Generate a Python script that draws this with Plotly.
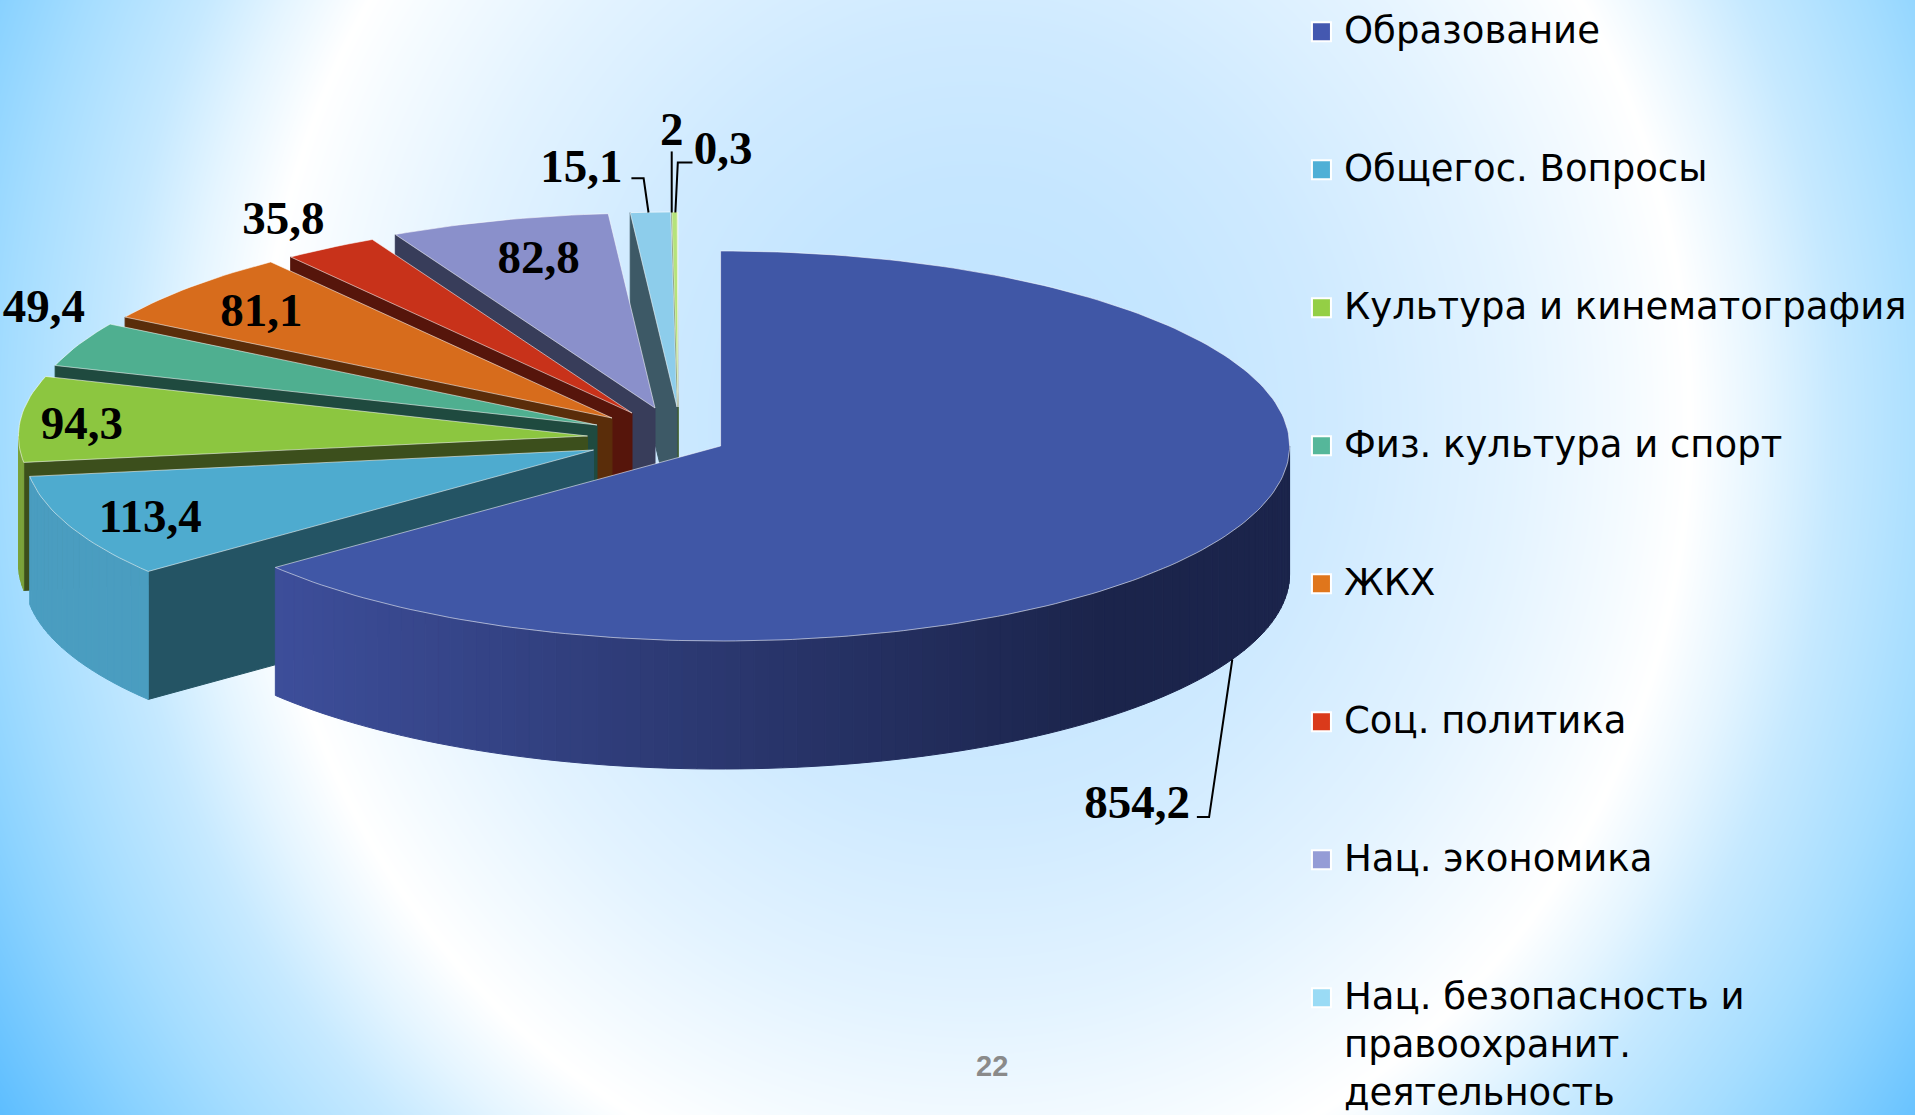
import numpy as np
import plotly.graph_objects as go

VALUES = [854.2, 113.4, 94.3, 49.4, 81.1, 35.8, 82.8, 15.1, 2, 0.3]
LEGEND_LABELS = ["Образование", "Общегос. Вопросы", "Культура и кинематография",
                 "Физ. культура и спорт", "ЖКХ", "Соц. политика", "Нац. экономика",
                 "Нац. безопасность и<br>правоохранит.<br>деятельность"]
PAGE_NO = "22"

TOP_COLORS = ["#4057A6", "#4EABCF", "#8CC640", "#4FAF90", "#D76C1C", "#C8321A", "#8A90CB", "#8DCDEB", "#B5E37A", "#E8F5B0"]
WALL_COLORS = ["#3B4C98", "#245464", "#3C4F1C", "#1F4A3F", "#5A2D0A", "#56150B", "#383D5A", "#3D5966", "#3C5A20", "#3C5A20"]
OUTER_COLORS = ["#3B4C98", "#4A9DC0", "#7AA33A", "#3F8C73", "#AD5616", "#A02814", "#6E73A2", "#71A4BC", "#90B660", "#90B660"]
LEGEND_COLORS = ["#4458B0", "#50B0D6", "#94CF45", "#55B79A", "#E0761C", "#DA3A1B", "#959CD6", "#9ADBF5"]

# pie geometry (pixels)
A, B, DEPTH = 569.0, 195.0, 128.0
# apex of each slice, i.e. its "pull"
APEX = [(720.6, 446), (593.5, 450), (587.5, 436), (597, 425), (612, 418), (632, 413), (655, 408), (677, 407), (678, 407), (678, 407)]
S = 1915 / 1568
LABEL_POS = [(931, 660), (123, 426), (67, 350), (36, 254), (214, 257), (232, 182), (441, 214), (476, 139), (550, 109), (592, 125)]
LEADERS = [[(980, 669), (990, 669), (1009, 540)],
           [(517, 146), (527, 146), (531, 174)],
           [(550, 124), (550, 174)],
           [(567, 133), (555, 133), (553, 174)]]

frac = np.array(VALUES) / sum(VALUES)
edges = np.concatenate([[0], np.cumsum(frac)]) * 2 * np.pi


def pt(ax, ay, th):
    return ax + A * np.sin(th), ay - B * np.cos(th)


def lerp_hex(c1, c2, t):
    a = [int(c1[i:i + 2], 16) for i in (1, 3, 5)]
    b = [int(c2[i:i + 2], 16) for i in (1, 3, 5)]
    return "rgb(%d,%d,%d)" % tuple(round(p + (q - p) * t) for p, q in zip(a, b))


fig = go.Figure()

# background: elliptical gradient
gx = np.linspace(0, 1915, 160)
gy = np.linspace(0, 1115, 100)
X, Y = np.meshgrid(gx, gy)
R = np.sqrt(((X - 975) / 715) ** 2 + ((Y - 420) / 790) ** 2)
RMAX = 1.7
STOPS = [(0, "#BFE3FF"), (0.3, "#C5E6FF"), (0.5, "#CFEAFF"), (0.75, "#E3F3FF"), (0.92, "#F5FBFF"), (1.0, "#FFFFFF"),
         (1.1, "#E5F5FF"), (1.2, "#C6E9FF"), (1.35, "#A5DDFF"), (1.45, "#8CD3FF"), (1.62, "#5EBEFF"), (1.7, "#55BAFF")]
fig.add_trace(go.Heatmap(
    x=gx, y=gy, z=R, zmin=0, zmax=RMAX, zsmooth="best", showscale=False, hoverinfo="skip",
    colorscale=[[r / RMAX, c] for r, c in STOPS]))


def poly(xs, ys, fill, line=None, width=0):
    fig.add_trace(go.Scatter(
        x=list(xs), y=list(ys), mode="lines", fill="toself", fillcolor=fill,
        line=dict(color=line or fill, width=width or 1), hoverinfo="skip", showlegend=False))


for i in list(range(len(VALUES) - 1, -1, -1)):
    ax, ay = APEX[i]
    t0, t1 = edges[i], edges[i + 1]
    # radial wall at the lower edge
    if i > 0:
        cx, cy = pt(ax, ay, t0)
        poly([ax, cx, cx, ax, ax], [ay, cy, cy + DEPTH, ay + DEPTH, ay], WALL_COLORS[i])
    # outer wall, only where it faces the viewer
    lo, hi = max(t0, np.pi / 2), min(t1, 3 * np.pi / 2)
    if hi > lo:
        n = max(2, int((hi - lo) / 0.025))
        ths = np.linspace(lo, hi, n + 1)
        for a, b in zip(ths[:-1], ths[1:]):
            mid = (a + b) / 2
            xa, ya = pt(ax, ay, a)
            xb, yb = pt(ax, ay, b)
            if i == 0:
                tt = np.clip((pt(ax, ay, mid)[0] - 274) / (1100 - 274), 0, 1)
                col = lerp_hex("#3D4E9A", "#1B244B", float(tt))
            else:
                col = OUTER_COLORS[i]
            poly([xa, xb, xb, xa, xa], [ya, yb, yb + DEPTH, ya + DEPTH, ya], col)
    # top face
    ths = np.linspace(t0, t1, max(3, int((t1 - t0) / 0.02)))
    xs, ys = pt(ax, ay, ths)
    poly(np.r_[ax, xs, ax], np.r_[ay, ys, ay], TOP_COLORS[i], "rgba(255,255,255,0.55)", 1)

# leaders
for seg in LEADERS:
    fig.add_trace(go.Scatter(x=[p[0] * S for p in seg], y=[p[1] * S for p in seg], mode="lines",
                             line=dict(color="#000000", width=2), hoverinfo="skip", showlegend=False))

# value labels
fig.add_trace(go.Scatter(
    x=[p[0] * S for p in LABEL_POS], y=[p[1] * S for p in LABEL_POS], mode="text",
    text=[f"{v:g}".replace(".", ",") for v in VALUES], textposition="middle center",
    textfont=dict(family="Liberation Serif", size=47, color="#000000", weight="bold"),
    hoverinfo="skip", showlegend=False))

# legend
LEG_X = 1082 * S
LEG_Y = [(26 + 113 * k) * S for k in range(len(LEGEND_COLORS))]
fig.add_trace(go.Scatter(
    x=[LEG_X] * len(LEGEND_COLORS), y=LEG_Y, mode="markers",
    marker=dict(symbol="square", size=19, color=LEGEND_COLORS, line=dict(color="#FFFFFF", width=2)),
    hoverinfo="skip", showlegend=False))
FONT = dict(family="DejaVu Sans", size=37, color="#000000")
for k, lab in enumerate(LEGEND_LABELS):
    fig.add_annotation(x=1099 * S, y=LEG_Y[k] - 25, text=lab, showarrow=False, xanchor="left", yanchor="top",
                       align="left", font=FONT)

fig.add_annotation(x=812 * S, y=873 * S, text=PAGE_NO, showarrow=False,
                   font=dict(family="Liberation Sans", size=29, color="#8A8A8A", weight="bold"))

fig.update_layout(
    width=1915, height=1115, margin=dict(l=0, r=0, t=0, b=0), paper_bgcolor="#FFFFFF", plot_bgcolor="rgba(0,0,0,0)",
    xaxis=dict(range=[0, 1915], visible=False, fixedrange=True),
    yaxis=dict(range=[1115, 0], visible=False, fixedrange=True), showlegend=False)

fig.write_html("out.html", config={"displayModeBar": False},
               post_script="document.body.style.margin='0';document.body.style.overflow='hidden';")
